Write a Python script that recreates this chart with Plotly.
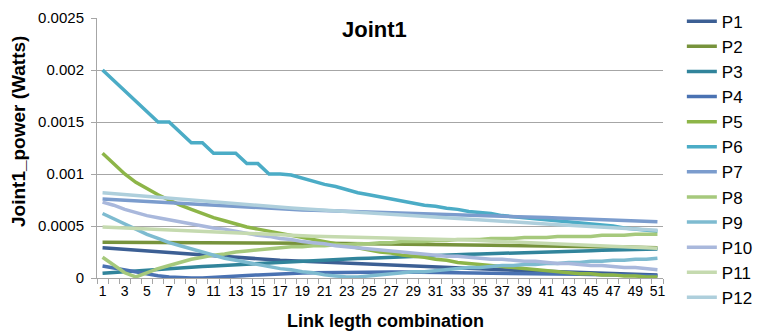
import plotly.graph_objects as go

categories = list(range(1, 52))
tick_labels = [str(v) for v in range(1, 52, 2)]
y_ticks = [0, 0.0005, 0.001, 0.0015, 0.002, 0.0025]
y_tick_labels = ["0", "0.0005", "0.001", "0.0015", "0.002", "0.0025"]

P1 = [0.00029, 0.000282, 0.000275, 0.000267, 0.00026, 0.000252, 0.000245, 0.000237, 0.00023, 0.000222,
      0.000215, 0.000207, 0.0002, 0.000192, 0.000185, 0.000177, 0.00017, 0.000165, 0.00016, 0.000155,
      0.00015, 0.000146, 0.000141, 0.000136, 0.000132, 0.000127, 0.000122, 0.000118, 0.000113, 0.000108,
      0.000104, 0.0001, 0.000095, 0.00009, 0.000087, 0.000083, 0.00008, 0.000076, 0.000073, 0.000069,
      0.000065, 0.000062, 0.000058, 0.000055, 0.000051, 0.000048, 0.000044, 0.000041, 0.000037, 0.000034, 0.00003]
P2 = [0.000343, 0.000343, 0.000342, 0.000342, 0.000342, 0.000341, 0.000341, 0.000341, 0.00034, 0.00034,
      0.00034, 0.000339, 0.000339, 0.000338, 0.000338, 0.000337, 0.000337, 0.000336, 0.000335, 0.000335,
      0.000334, 0.000333, 0.000332, 0.000331, 0.00033, 0.000329, 0.000328, 0.000327, 0.000326, 0.000325,
      0.000324, 0.000322, 0.000321, 0.00032, 0.000318, 0.000317, 0.000315, 0.000314, 0.000312, 0.00031,
      0.000309, 0.000307, 0.000305, 0.000304, 0.000302, 0.0003, 0.000299, 0.000297, 0.000295, 0.000293, 0.000291]
P3 = [0.000045, 0.000053, 0.00006, 0.000068, 0.000075, 0.000082, 0.000089, 0.000096, 0.000103, 0.00011,
      0.000116, 0.000122, 0.000128, 0.000134, 0.00014, 0.000146, 0.000152, 0.000157, 0.000162, 0.000167,
      0.000172, 0.000177, 0.000182, 0.000187, 0.000191, 0.000196, 0.0002, 0.000204, 0.000208, 0.000212,
      0.000216, 0.00022, 0.000224, 0.000228, 0.000231, 0.000235, 0.000238, 0.000242, 0.000245, 0.000248,
      0.000251, 0.000254, 0.000257, 0.00026, 0.000263, 0.000266, 0.000269, 0.000272, 0.000275, 0.000278, 0.00028]
P4 = [0.000115, 0.000095, 0.000075, 0.000055, 0.000038, 0.000022, 0.00001, 0.000003, 0.0, 0.0,
      0.000004, 0.00001, 0.000017, 0.000024, 0.00003, 0.000036, 0.000041, 0.000045, 0.000048, 0.000051,
      0.000053, 0.000055, 0.000056, 0.000057, 0.000058, 0.000058, 0.000058, 0.000058, 0.000057, 0.000056,
      0.000055, 0.000054, 0.000053, 0.000052, 0.00005, 0.000049, 0.000047, 0.000046, 0.000044, 0.000042,
      0.000041, 0.000039, 0.000037, 0.000035, 0.000033, 0.000031, 0.000029, 0.000027, 0.000025, 0.000023, 0.000021]
P5 = [0.0012, 0.0011, 0.001, 0.00092, 0.00086, 0.0008, 0.00075, 0.0007, 0.00066, 0.00062,
      0.00058, 0.00055, 0.00052, 0.00049, 0.00047, 0.00045, 0.00043, 0.00041, 0.00039, 0.00037,
      0.00035, 0.00033, 0.00031, 0.00029, 0.00027, 0.00025, 0.00024, 0.00022, 0.00021, 0.0002,
      0.00018, 0.00017, 0.00015, 0.00014, 0.00013, 0.00012, 0.00011, 0.0001, 0.00009, 0.00008,
      0.00007, 0.00006, 0.00005, 0.00004, 0.00004, 0.00003, 0.00003, 0.00002, 0.00002, 0.00001, 0.00001]
P6 = [0.002, 0.0019, 0.0018, 0.0017, 0.0016, 0.0015, 0.0015, 0.0014, 0.0013, 0.0013,
      0.0012, 0.0012, 0.0012, 0.0011, 0.0011, 0.001, 0.001, 0.00099, 0.00096, 0.00093,
      0.0009, 0.00088, 0.00085, 0.00082, 0.0008, 0.00078, 0.00076, 0.00074, 0.00072, 0.0007,
      0.00069, 0.00067, 0.00066, 0.00064, 0.00063, 0.00062, 0.0006, 0.00059, 0.00058, 0.00057,
      0.00056, 0.00055, 0.00054, 0.00053, 0.00052, 0.00051, 0.0005, 0.00048, 0.00047, 0.00046, 0.00045]
P7 = [0.00076, 0.000754, 0.000748, 0.000741, 0.000735, 0.000729, 0.000723, 0.000716, 0.00071, 0.000704,
      0.000698, 0.000691, 0.000685, 0.000679, 0.000673, 0.000666, 0.00066, 0.000657, 0.000654, 0.000651,
      0.000648, 0.000645, 0.000642, 0.000639, 0.000636, 0.000634, 0.000631, 0.000628, 0.000625, 0.000622,
      0.000619, 0.000616, 0.000613, 0.00061, 0.000606, 0.000602, 0.000598, 0.000594, 0.00059, 0.000585,
      0.000581, 0.000577, 0.000573, 0.000569, 0.000565, 0.000561, 0.000557, 0.000552, 0.000548, 0.000544, 0.00054]
P8 = [0.0002, 0.00012, 0.00005, 0.00001, 0.00005, 0.00009, 0.00012, 0.00015, 0.00018, 0.0002,
      0.00022, 0.00023, 0.00025, 0.00026, 0.00027, 0.00028, 0.00029, 0.0003, 0.0003, 0.00031,
      0.00031, 0.00032, 0.00032, 0.00033, 0.00033, 0.00034, 0.00034, 0.00035, 0.00035, 0.00035,
      0.00036, 0.00036, 0.00037, 0.00037, 0.00037, 0.00038, 0.00038, 0.00038, 0.00039, 0.00039,
      0.00039, 0.0004, 0.0004, 0.0004, 0.0004, 0.00041, 0.00041, 0.00041, 0.00042, 0.00042, 0.00042]
P9 = [0.00062, 0.00057, 0.00052, 0.00047, 0.00042, 0.00038, 0.00034, 0.00031, 0.00028, 0.00025,
      0.00022, 0.00019, 0.00017, 0.00015, 0.00013, 0.00011, 0.00009, 0.00008, 0.00006, 0.00005,
      0.00003, 0.00002, 0.00001, 0.00001, 0.00002, 0.00003, 0.00004, 0.00005, 0.00006, 0.00006,
      0.00007, 0.00008, 0.00009, 0.0001, 0.0001, 0.00011, 0.00012, 0.00012, 0.00013, 0.00013,
      0.00014, 0.00014, 0.00015, 0.00015, 0.00016, 0.00016, 0.00017, 0.00017, 0.00018, 0.00018, 0.00019]
P10 = [0.00073, 0.0007, 0.00066, 0.00063, 0.0006, 0.00058, 0.00056, 0.00054, 0.00052, 0.0005,
       0.00048, 0.00047, 0.00045, 0.00043, 0.00041, 0.0004, 0.00038, 0.00037, 0.00035, 0.00034,
       0.00033, 0.00031, 0.0003, 0.00029, 0.00028, 0.00027, 0.00026, 0.00025, 0.00024, 0.00023,
       0.00022, 0.00021, 0.00021, 0.0002, 0.00019, 0.00018, 0.00018, 0.00017, 0.00016, 0.00016,
       0.00015, 0.00014, 0.00014, 0.00013, 0.00012, 0.00012, 0.00011, 0.0001, 0.0001, 0.00009, 0.00008]
P11 = [0.00049, 0.000485, 0.00048, 0.000475, 0.00047, 0.000465, 0.00046, 0.000455, 0.00045, 0.000445,
       0.00044, 0.000435, 0.00043, 0.000425, 0.00042, 0.000415, 0.00041, 0.000407, 0.000405, 0.000402,
       0.000399, 0.000397, 0.000394, 0.000391, 0.000389, 0.000386, 0.000383, 0.000381, 0.000378, 0.000375,
       0.000373, 0.00037, 0.000367, 0.000365, 0.00036, 0.000355, 0.000351, 0.000346, 0.000341, 0.000337,
       0.000332, 0.000327, 0.000323, 0.000318, 0.000313, 0.000309, 0.000304, 0.000299, 0.000295, 0.00029, 0.000285]
P12 = [0.00082, 0.000811, 0.000803, 0.000794, 0.000785, 0.000776, 0.000768, 0.000759, 0.00075, 0.000741,
       0.000733, 0.000724, 0.000715, 0.000706, 0.000698, 0.000689, 0.00068, 0.000673, 0.000666, 0.000659,
       0.000652, 0.000645, 0.000638, 0.000631, 0.000624, 0.000616, 0.000609, 0.000602, 0.000595, 0.000588,
       0.000581, 0.000574, 0.000567, 0.00056, 0.000554, 0.000548, 0.000542, 0.000536, 0.000531, 0.000525,
       0.000519, 0.000513, 0.000507, 0.000501, 0.000495, 0.000489, 0.000484, 0.000478, 0.000472, 0.000466, 0.00046]

series_names = ["P1", "P2", "P3", "P4", "P5", "P6", "P7", "P8", "P9", "P10", "P11", "P12"]
series_values = [P1, P2, P3, P4, P5, P6, P7, P8, P9, P10, P11, P12]
colors = ["#3C5F94", "#77933C", "#31849B", "#4A72B2", "#8DB548", "#4BACC6",
          "#7B9CCD", "#A6C97C", "#7EBBD0", "#A9B8DC", "#C5DAAF", "#AECFDC"]

fig = go.Figure()
for name, vals, col in zip(series_names, series_values, colors):
    fig.add_trace(go.Scatter(x=categories, y=vals, name=name, mode="lines",
                             legendgroup=name,
                             line=dict(color=col, width=3.5)))

grid_col = "#A6A6A6"
# the page body adds an 8px offset on the left and top
fig.update_layout(
    width=756, height=327,
    margin=dict(l=89, r=101, t=10, b=57, autoexpand=False),
    paper_bgcolor="white", plot_bgcolor="white",
    font=dict(family="Liberation Sans, Arial, sans-serif", color="#000000"),
    showlegend=True,
    legend=dict(x=1.0333, xanchor="left", y=1.055, yanchor="top",
                font=dict(size=17, family="Liberation Sans, Arial, sans-serif"),
                tracegroupgap=0, itemwidth=30, bgcolor="rgba(0,0,0,0)",
                maxheight=1.0),
    xaxis=dict(range=[0.5, 51.5], tickmode="array", tickvals=list(range(1, 52, 2)),
               ticktext=tick_labels, ticks="", showgrid=False, zeroline=False,
               showline=True, linecolor=grid_col, linewidth=1,
               tickfont=dict(size=14, family="Liberation Sans, Arial"),
               minor=dict(ticks="outside", tick0=0.5, dtick=1, ticklen=5, tickcolor=grid_col, showgrid=False)),
    yaxis=dict(range=[0, 0.0025], tickmode="array", tickvals=y_ticks, ticktext=y_tick_labels,
               showgrid=True, gridcolor=grid_col, gridwidth=1, zeroline=False,
               showline=True, linecolor=grid_col, linewidth=1,
               ticks="outside", ticklen=5, tickcolor=grid_col, ticklabelstandoff=4,
               tickfont=dict(size=15, family="Liberation Sans, Arial")),
    annotations=[
        dict(text="<b>Joint1</b>", x=(374 - 97) / 566, y=(278 - 30) / 260, xref="paper", yref="paper",
             showarrow=False, xanchor="center", yanchor="middle", font=dict(size=22)),
        dict(text="<b>Link legth combination</b>", x=(385 - 97) / 566, y=-43 / 260,
             xref="paper", yref="paper", showarrow=False, xanchor="center", yanchor="middle",
             font=dict(size=18)),
        dict(text="<b>Joint1_power (Watts)</b>", x=(18 - 97) / 566, y=(278 - 132) / 260,
             xref="paper", yref="paper", showarrow=False, xanchor="center", yanchor="middle",
             textangle=-90, font=dict(size=19)),
    ],
)

fig.write_html("out.html")
